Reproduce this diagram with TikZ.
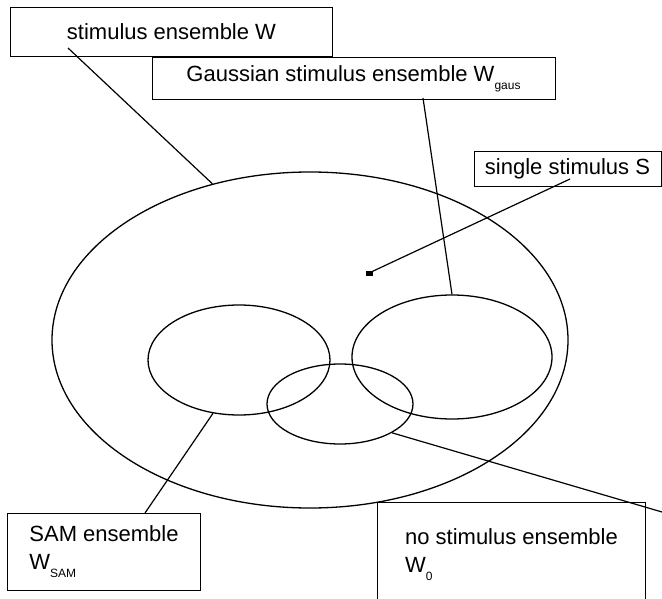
\documentclass[tikz,border=0pt]{standalone}
\usepackage{fontspec}
\setmainfont{Liberation Sans}
\usetikzlibrary{shapes.geometric}
\newcommand{\lowidx}[1]{\raisebox{-8bp}{\fontsize{12bp}{12bp}\selectfont #1}}
\tikzset{
  labelbox/.style={draw, line width=1bp, inner sep=0pt, font=\fontsize{22bp}{28bp}\selectfont},
  ensemble/.style={draw, ellipse, line width=1.3bp, inner sep=0pt},
  pointer/.style={line width=1.2bp}
}

\begin{document}
\begin{tikzpicture}[x=1bp, y=-1bp]
  \useasboundingbox (0,0) rectangle (662,599);
  % ensembles
  \node[ensemble, minimum width=516bp, minimum height=336bp] (W) at (310,340) {};
  \node[ensemble, minimum width=182bp, minimum height=110bp] (Wsam) at (239,360) {};
  \node[ensemble, minimum width=200bp, minimum height=124bp] (Wgaus) at (452,357) {};
  \node[ensemble, minimum width=146bp, minimum height=80bp] (Wnull) at (340,404) {};
  \node[fill, inner sep=0pt, minimum width=7bp, minimum height=5bp] (S) at (369,273) {};
  % labels
  \node[labelbox, minimum width=321bp, minimum height=49bp] (wbox) at (171.5,32) {stimulus ensemble W};
  \node[labelbox, minimum width=403bp, minimum height=42bp] (gbox) at (353.5,79) {Gaussian stimulus ensemble W\lowidx{gaus}};
  \node[labelbox, minimum width=187bp, minimum height=34bp] (sbox) at (567.5,169) {single stimulus S};
  \node[labelbox, minimum width=193bp, minimum height=77bp, anchor=north west, align=left] (sambox) at (7,513) {SAM ensemble\\W\lowidx{SAM}};
  \node[labelbox, minimum width=268bp, minimum height=105bp, anchor=north west, align=left] (nullbox) at (377,502) {no stimulus ensemble\\W\lowidx{0}};
  % pointers
  \coordinate (wtip) at (68,48);
  \coordinate (gtip) at (423,98);
  \coordinate (stip) at (570,179);
  \coordinate (samtip) at (145,513);
  \coordinate (nulltip) at (662,512);
  \draw[pointer] (wtip) -- (W.122.7);
  \draw[pointer] (gtip) -- (Wgaus.north);
  \draw[pointer] (stip) -- (S);
  \draw[pointer] (Wsam.244) -- (samtip);
  \draw[pointer] (Wnull.331) -- (nulltip);
\end{tikzpicture}
\end{document}
